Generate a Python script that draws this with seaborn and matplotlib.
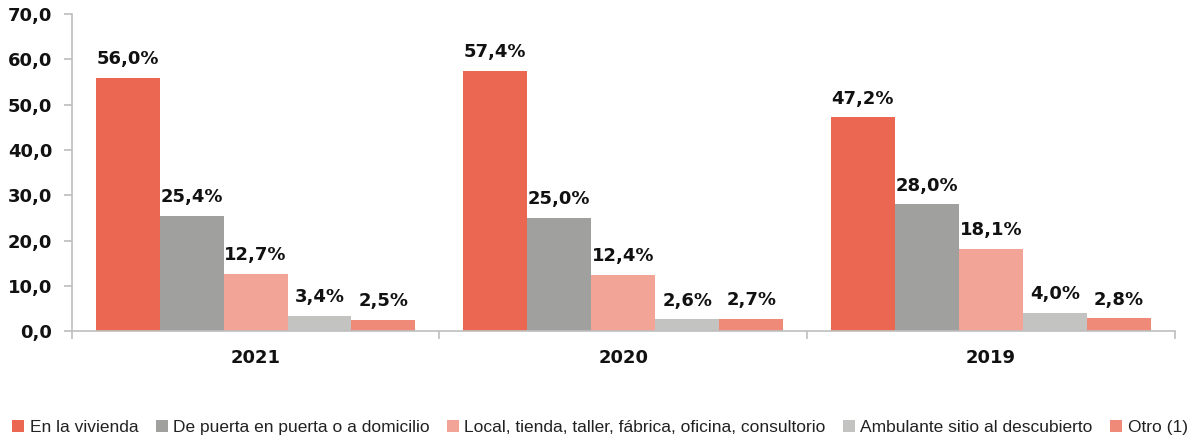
import matplotlib
matplotlib.use("Agg")
import matplotlib.pyplot as plt
import seaborn as sns
import pandas as pd
import numpy as np
from matplotlib.ticker import FixedLocator, FuncFormatter

years = ["2021", "2020", "2019"]
series = ["En la vivienda", "De puerta en puerta o a domicilio",
          "Local, tienda, taller, fábrica, oficina, consultorio",
          "Ambulante sitio al descubierto", "Otro (1)"]
vivienda = [56.0, 57.4, 47.2]
puerta = [25.4, 25.0, 28.0]
local = [12.7, 12.4, 18.1]
ambulante = [3.4, 2.6, 4.0]
otro = [2.5, 2.7, 2.8]
colors = ["#EC6752", "#A0A09E", "#F2A497", "#C3C3C1", "#F08A78"]

values = [vivienda, puerta, local, ambulante, otro]
rows = []
for s, vals in zip(series, values):
    for y, v in zip(years, vals):
        rows.append({"year": y, "serie": s, "value": v})
df = pd.DataFrame(rows)

sns.set_theme(style="white")
plt.rcParams["font.family"] = ["DejaVu Sans"]

fig = plt.figure(figsize=(11.95, 4.42), dpi=100)
ax = fig.add_axes([0.060, 0.251, 0.923, 0.717])

sns.barplot(data=df, x="year", y="value", hue="serie", order=years,
            hue_order=series, palette=colors, width=0.87, saturation=1,
            edgecolor="none", ax=ax, legend=True)

for cont in ax.containers:
    labels = [f"{b.get_height():.1f}%".replace(".", ",") for b in cont]
    ax.bar_label(cont, labels=labels, padding=7, fontsize=13,
                 fontweight="bold", color="#111111")

ax.set_ylim(0, 70)
ax.set_xlim(-0.5, 2.5)
ax.yaxis.set_major_locator(FixedLocator(np.arange(0, 71, 10)))
ax.yaxis.set_major_formatter(FuncFormatter(lambda v, p: f"{v:.1f}".replace(".", ",")))
ax.set_xlabel("")
ax.set_ylabel("")

for sp in ["top", "right"]:
    ax.spines[sp].set_visible(False)
for sp in ["left", "bottom"]:
    ax.spines[sp].set_color("#BFBFBF")
    ax.spines[sp].set_linewidth(1.2)

ax.tick_params(axis="y", which="major", left=True, length=6, color="#BFBFBF",
               labelsize=13, pad=8, labelcolor="#111111")
for t in ax.get_yticklabels():
    t.set_fontweight("bold")
ax.tick_params(axis="x", which="major", bottom=False, labelsize=13, pad=7,
               labelcolor="#111111")
for t in ax.get_xticklabels():
    t.set_fontweight("bold")
ax.xaxis.set_minor_locator(FixedLocator([-0.5, 0.5, 1.5, 2.5]))
ax.tick_params(axis="x", which="minor", bottom=True, length=6, color="#BFBFBF", width=1.2)

handles, labs = ax.get_legend_handles_labels()
ax.get_legend().remove()
fig.legend(handles, labs, loc="center", bbox_to_anchor=(0.502, 0.032), ncol=5,
           frameon=False, prop={"family": "Liberation Sans", "size": 12.5},
           handlelength=0.7, handleheight=0.7, handletextpad=0.3,
           columnspacing=1.0, borderaxespad=0, labelcolor="#222222")

fig.savefig("out.png", dpi=100)
